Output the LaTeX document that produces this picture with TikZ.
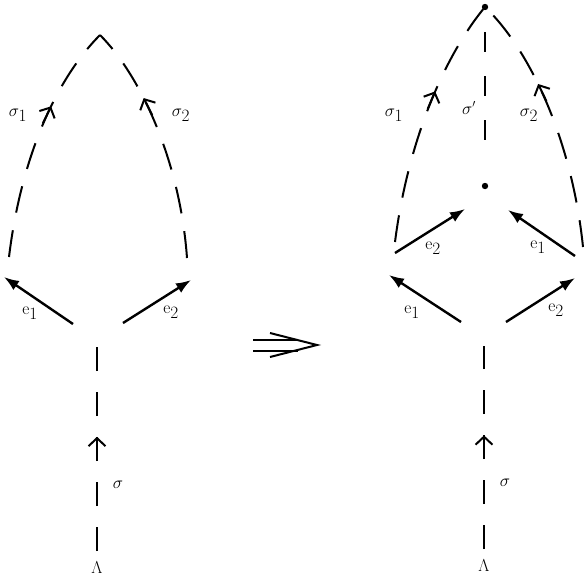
\documentclass[tikz,border=0pt]{standalone}
\usepackage{tikz}
\usetikzlibrary{arrows.meta,decorations.markings}

\begin{document}
\begin{tikzpicture}[x=1pt, y=-1pt,
    every node/.style={font=\fontsize{19}{21}\selectfont, inner sep=0pt},
    curve/.style={line width=2pt, dash pattern=on 27pt off 18pt},
    leg/.style={line width=2pt, dash pattern=on 24pt off 21pt},
    edge/.style={line width=2.4pt, -{Latex[length=15pt,width=11pt]}},
    flow/.style={postaction={decorate}, decoration={markings,
        mark=at position #1 with {\draw[solid, line width=2pt, -{Straight Barb[length=8pt,width=17pt]}] (-18pt,0) -- (1pt,0);}}},
    small/.style={font=\fontsize{16}{18}\selectfont}]

        \useasboundingbox (0,0) rectangle (586,582);

        % left panel
        \coordinate (a) at (100,35);
        \coordinate (l1) at (9,257);
        \coordinate (l2) at (187,258);
        \coordinate (o1) at (73,324);
        \coordinate (o2) at (123,323);
        \coordinate (t1) at (4,277);
        \coordinate (t2) at (191,280);
        \coordinate (s0) at (97,347);
        \coordinate (s1) at (97,551);

        \draw[curve, flow=0.64] (l1) .. controls (22,150) and (60,75) .. (a);
        \draw[curve, flow=0.68] (l2) .. controls (180,160) and (140,75) .. (a);
        \draw[edge] (o1) -- (t1);
        \draw[edge] (o2) -- (t2);
        \draw[leg, flow=0.555] (s1) -- (s0);

        \node (e1) at (30,313) {$\mathrm{e}_{\textstyle 1}$};
        \node (e2) at (171,312) {$\mathrm{e}_{\textstyle 2}$};
        \node (sg1) at (18,115) {$\sigma_{\textstyle 1}$};
        \node (sg2) at (181,115) {$\sigma_{\textstyle 2}$};
        \node[small] (sg) at (118,485) {$\sigma$};
        \node[small] (lam) at (97,568) {$\Lambda$};

        % arrow between panels
        \draw[line width=2pt] (253,340) -- (298,340) (253,351) -- (298,351);
        \draw[line width=2pt] (270,333) -- (317,345) -- (270,357);

        % right panel
        \coordinate (b) at (485,7);
        \coordinate (m) at (485,186);
        \coordinate (r1) at (395,242);
        \coordinate (r2) at (583,247);
        \coordinate (p1) at (395,253);
        \coordinate (q1) at (465,209);
        \coordinate (p2) at (575,256);
        \coordinate (q2) at (508,210);
        \coordinate (o3) at (461,322);
        \coordinate (o4) at (506,322);
        \coordinate (t3) at (389,275);
        \coordinate (t4) at (575,278);
        \coordinate (s2) at (484,346);
        \coordinate (s3) at (484,549);

        \draw[curve, flow=0.61] (r1) .. controls (408,140) and (445,55) .. (b);
        \draw[curve, flow=0.64] (r2) .. controls (572,140) and (530,50) .. (b);
        \draw[curve, dash pattern=on 20pt off 24pt, shorten <=25pt, shorten >=46pt] (b) -- (m);
        \fill (b) circle (3.2pt);
        \fill (m) circle (3.2pt);
        \draw[edge] (p1) -- (q1);
        \draw[edge] (p2) -- (q2);
        \draw[edge] (o3) -- (t3);
        \draw[edge] (o4) -- (t4);
        \draw[leg, flow=0.555] (s3) -- (s2);

        \node (e1b) at (412,312) {$\mathrm{e}_{\textstyle 1}$};
        \node (e2b) at (556,310) {$\mathrm{e}_{\textstyle 2}$};
        \node (e2c) at (433,248) {$\mathrm{e}_{\textstyle 2}$};
        \node (e1c) at (538,247) {$\mathrm{e}_{\textstyle 1}$};
        \node (sg1b) at (394,115) {$\sigma_{\textstyle 1}$};
        \node[small] (sgp) at (469,108) {$\sigma'$};
        \node (sg2b) at (529,115) {$\sigma_{\textstyle 2}$};
        \node[small] (sgb) at (505,483) {$\sigma$};
        \node[small] (lamb) at (484,566) {$\Lambda$};

    \end{tikzpicture}
\end{document}
